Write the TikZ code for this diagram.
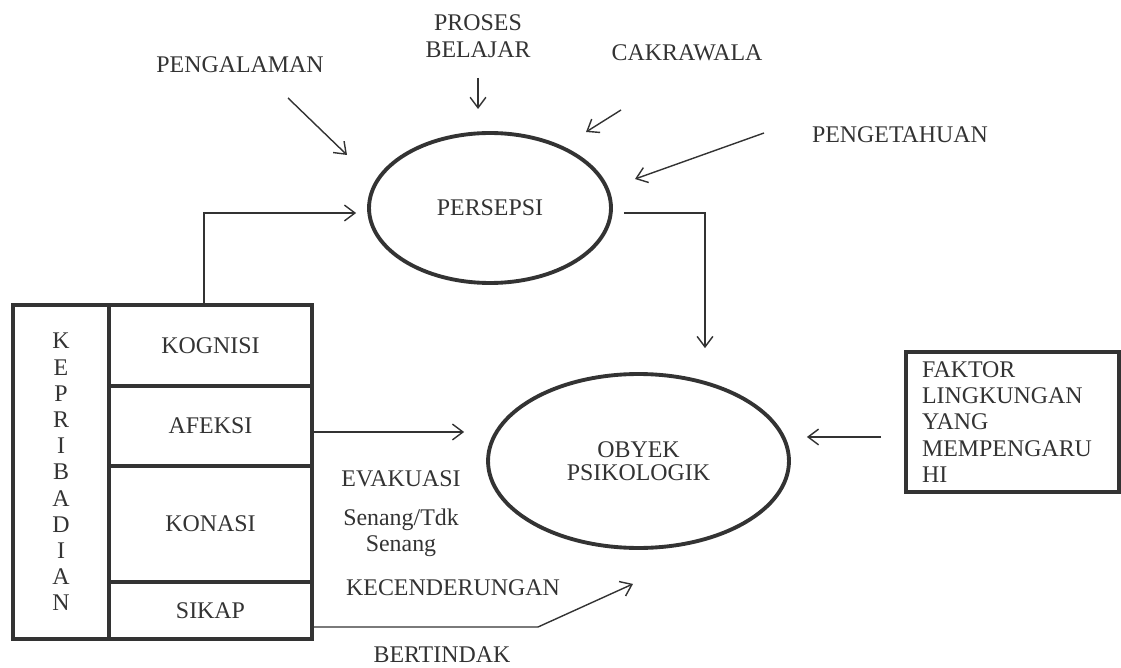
\documentclass[tikz,border=0pt]{standalone}
\usepackage{fontspec}
\setmainfont{Liberation Serif}
\usetikzlibrary{shapes.geometric, arrows.meta, positioning, calc}
\definecolor{inkdark}{HTML}{333333}
\definecolor{textgray}{HTML}{333333}

\begin{document}
\begin{tikzpicture}[
        x=0.02cm, y=-0.02cm,
        font=\fontsize{13.6pt}{14.9pt}\selectfont,
        text=textgray,
        label_text/.style={
            inner sep=0pt,
            align=center
        },
        oval_node/.style={
            ellipse,
            draw=inkdark,
            line width=2.2pt,
            inner sep=0pt,
            align=center
        },
        cell_node/.style={
            rectangle,
            draw=inkdark,
            line width=2.2pt,
            minimum width=4.06cm,
            inner sep=0pt
        },
        arrow/.style={
            -{Straight Barb[length=6pt, width=9pt]},
            draw=inkdark,
            line width=0.8pt
        }
    ]
    \useasboundingbox (0,0) rectangle (1121,668);

    % Central ovals
    \node[oval_node, minimum width=4.84cm, minimum height=3cm] (persepsi) at (490,208) {PERSEPSI};
    \node[oval_node, minimum width=6.02cm, minimum height=3.48cm] (obyek) at (638.5,461) {OBYEK\\[-2pt]PSIKOLOGIK};

    % Kepribadian block (Left)
    \node[cell_node, minimum width=1.92cm, minimum height=6.68cm, align=center] (kepribadian) at (61,472)
        {K\\E\\P\\R\\I\\B\\A\\D\\I\\A\\N};
    \node[cell_node, minimum height=1.62cm] (kognisi) at (210.5,345.5) {KOGNISI};
    \node[cell_node, minimum height=1.6cm] (afeksi) at (210.5,426) {AFEKSI};
    \node[cell_node, minimum height=2.32cm] (konasi) at (210.5,524) {KONASI};
    \node[cell_node, minimum height=1.14cm] (sikap) at (210.5,610.5) {SIKAP};

    % Factors feeding the perception
    \node[label_text] (pengalaman) at (240,65) {PENGALAMAN};
    \node[label_text, font=\fontsize{13.6pt}{15.3pt}\selectfont] (proses) at (478,36.5) {PROSES\\BELAJAR};
    \node[label_text] (cakrawala) at (687,53) {CAKRAWALA};
    \node[label_text] (pengetahuan) at (900,135) {PENGETAHUAN};

    \coordinate (pgl-from) at (288,98);
    \coordinate (pgl-to) at (347,155);
    \coordinate (prs-from) at (478,78);
    \coordinate (prs-to) at (478,109);
    \coordinate (ckr-from) at (621,110);
    \coordinate (ckr-to) at (586,132);
    \coordinate (pgt-from) at (764,133);
    \coordinate (pgt-to) at (635,179);

    \draw[arrow] (pgl-from) -- (pgl-to);
    \draw[arrow] (prs-from) -- (prs-to);
    \draw[arrow] (ckr-from) -- (ckr-to);
    \draw[arrow] (pgt-from) -- (pgt-to);

    % Environment box (Right)
    \node[cell_node, minimum width=4.26cm, minimum height=2.8cm, text width=3.62cm, inner xsep=0.32cm, align=left] (faktor) at (1012.5,422)
        {FAKTOR\\LINGKUNGAN\\YANG\\MEMPENGARU\\HI};

    % Labels along the lower arrows
    \node[label_text] (evakuasi) at (401,479) {EVAKUASI};
    \node[label_text] (senang) at (401,533) {Senang/Tdk\\Senang};
    \node[label_text] (kecenderungan) at (453,588) {KECENDERUNGAN};
    \node[label_text] (bertindak) at (442,655) {BERTINDAK};

    % Connectors
    \draw[arrow, shorten >=0.22cm] ([xshift=-0.13cm]kognisi.north) |- ([yshift=-0.1cm]persepsi.west);
    \draw[arrow, shorten <=0.22cm, shorten >=0.48cm] ([yshift=-0.1cm]persepsi.east) -| ([xshift=1.33cm]obyek.north);
    \draw[arrow, shorten >=0.44cm] ([yshift=-0.12cm]afeksi.east) -- ([yshift=-0.12cm]afeksi.east -| obyek.west);
    \coordinate (sikap-bend) at (538,627);
    \coordinate (sikap-tip) at ([shift={(-5.5,34)}]obyek.south);
    \draw[arrow] ([yshift=-0.33cm]sikap.east) -- (sikap-bend) -- (sikap-tip);
    \draw[arrow, shorten <=0.46cm, shorten >=0.32cm] ([yshift=-0.3cm]faktor.west) -- ([yshift=-0.3cm]faktor.west -| obyek.east);

\end{tikzpicture}
\end{document}
